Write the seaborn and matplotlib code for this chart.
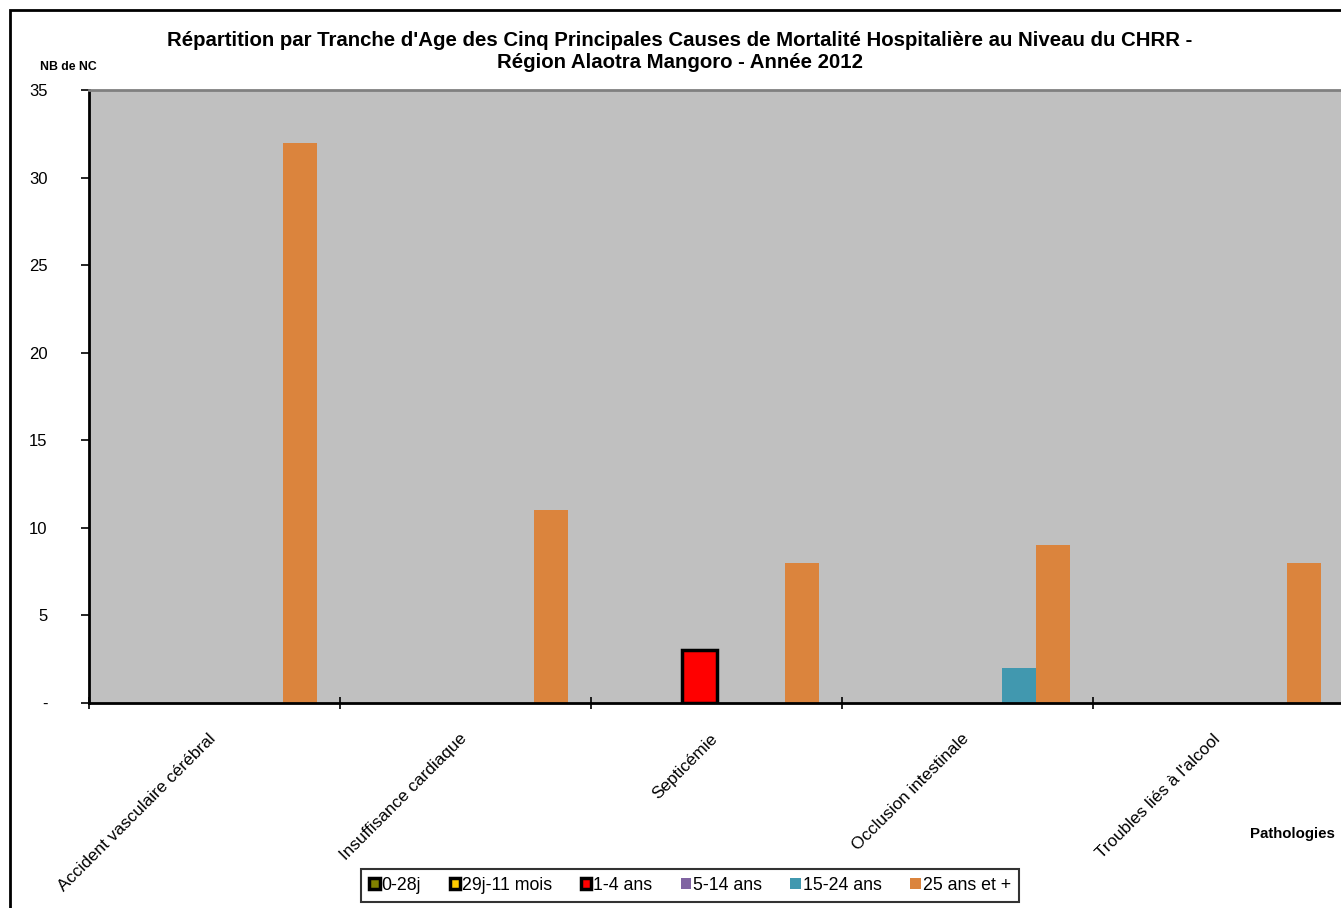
import matplotlib
matplotlib.use("Agg")
import matplotlib.pyplot as plt
import seaborn as sns
import pandas as pd
from matplotlib.patches import Patch, Rectangle

categories = ["Accident vasculaire cérébral", "Insuffisance cardiaque", "Septicémie",
              "Occlusion intestinale", "Troubles liés à l'alcool"]
age_groups = ["0-28j", "29j-11 mois", "1-4 ans", "5-14 ans", "15-24 ans", "25 ans et +"]
v_0_28j = [0, 0, 0, 0, 0]
v_29j_11m = [0, 0, 0, 0, 0]
v_1_4 = [0, 0, 3, 0, 0]
v_5_14 = [0, 0, 0, 0, 0]
v_15_24 = [0, 0, 0, 2, 0]
v_25p = [32, 11, 8, 9, 8]
colors = ["#808000", "#FFCC00", "#FF0000", "#8064A2", "#4198AF", "#DB843D"]
edged = [True, True, True, False, False, False]
yticks = [0, 5, 10, 15, 20, 25, 30, 35]
ytick_labels = ["-", "5", "10", "15", "20", "25", "30", "35"]

series = [v_0_28j, v_29j_11m, v_1_4, v_5_14, v_15_24, v_25p]
rows = []
for g, vals in zip(age_groups, series):
    for c, v in zip(categories, vals):
        rows.append({"Pathologie": c, "Age": g, "NB": v})
df = pd.DataFrame(rows)

sns.set_theme(style="white")
plt.rcParams["font.family"] = ["Liberation Sans", "DejaVu Sans"]
plt.rcParams["text.color"] = "black"
plt.rcParams["xtick.color"] = "black"
plt.rcParams["ytick.color"] = "black"
plt.rcParams["axes.labelcolor"] = "black"

fig = plt.figure(figsize=(13.41, 9.08), dpi=100)
W, H = 1341, 908
ax = fig.add_axes([89 / W, 1 - 703 / H, 1255 / W, 613 / H])
ax.set_facecolor("#C0C0C0")

sns.barplot(data=df, x="Pathologie", y="NB", hue="Age", order=categories,
            hue_order=age_groups, palette=colors, width=0.813, ax=ax,
            legend=False, linewidth=0, saturation=1)

# black edge on the visible red bar
for bars, e in zip(ax.containers, edged):
    for p in bars:
        if e and p.get_height() > 0:
            p.set_edgecolor("black")
            p.set_linewidth(2.5)

ax.set_xlim(-0.5, len(categories) - 0.5)
ax.set_ylim(0, 35)
ax.set_yticks(yticks)
ax.set_yticklabels(ytick_labels, fontsize=12)
ax.set_xticks([i - 0.5 for i in range(len(categories) + 1)], minor=False)
ax.set_xticklabels([])
ax.tick_params(axis="x", which="major", direction="inout", length=8, width=1.2, color="black", bottom=True)
ax.tick_params(axis="y", which="major", direction="out", length=6, width=1.2, color="black", left=True, pad=24)
for lbl in ax.get_yticklabels():
    lbl.set_horizontalalignment("right")
for i, c in enumerate(categories):
    ax.text(i - 0.025, -1.6, c, rotation=45, ha="right", va="top",
            rotation_mode="anchor", fontsize=12.3, transform=ax.transData)
ax.set_xlabel("")
ax.set_ylabel("")
for s in ["left", "bottom"]:
    ax.spines[s].set_color("black")
    ax.spines[s].set_linewidth(2)
for s in ["top", "right"]:
    ax.spines[s].set_color("#808080")
    ax.spines[s].set_linewidth(2)

fig.text(0.507, 1 - 40 / H, "Répartition par Tranche d'Age des Cinq Principales Causes de Mortalité Hospitalière au Niveau du CHRR -",
         ha="center", va="center", fontsize=14.7, fontweight="bold")
fig.text(0.507, 1 - 63 / H, "Région Alaotra Mangoro - Année 2012",
         ha="center", va="center", fontsize=14.7, fontweight="bold")
fig.text(40 / W, 1 - 67 / H, "NB de NC", ha="left", va="center", fontsize=8.8, fontweight="bold")
fig.text(1335 / W, 1 - 834 / H, "Pathologies", ha="right", va="center", fontsize=10.8, fontweight="bold")

handles = []
for g, col, e in zip(age_groups, colors, edged):
    handles.append(Patch(facecolor=col, edgecolor="black" if e else col, linewidth=2.5 if e else 0, label=g))
leg = fig.legend(handles=handles, loc="center", bbox_to_anchor=(690 / W, 1 - 885 / H), ncol=6,
                 frameon=True, fancybox=False, fontsize=12.8, handlelength=0.6, handleheight=0.6,
                 handletextpad=0.1, columnspacing=1.6, borderpad=0.45)
leg.get_frame().set_edgecolor("black")
leg.get_frame().set_linewidth(1.5)

# outer chart border (left and top visible)
fig.patches.append(Rectangle((10 / W, -0.1), 1.2, 1 - 10 / H + 0.1, transform=fig.transFigure,
                             fill=False, edgecolor="black", linewidth=2, zorder=-1))

fig.savefig("out.png", dpi=100)
